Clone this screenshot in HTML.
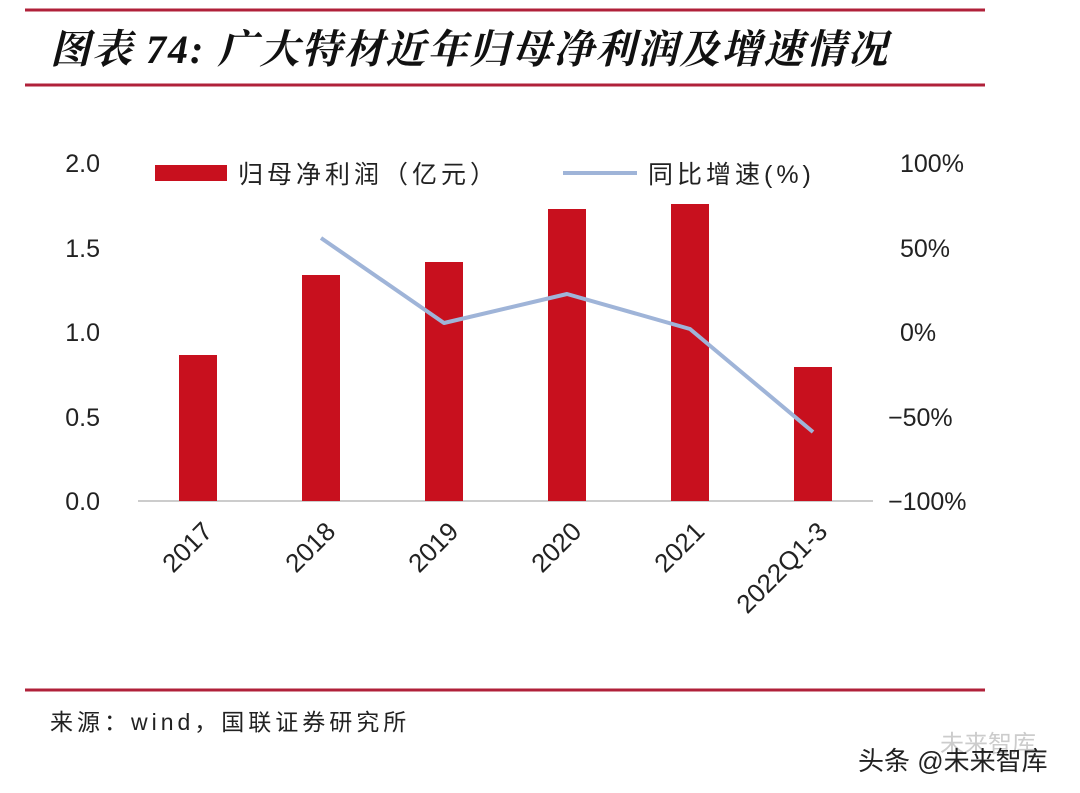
<!DOCTYPE html>
<html><head><meta charset="utf-8"><style>
body{margin:0;background:#fff;}
svg{display:block;}
</style></head><body>
<svg width="1080" height="793" xmlns="http://www.w3.org/2000/svg" font-family="'Liberation Sans','Noto Sans CJK SC',sans-serif">
<rect width="1080" height="793" fill="#fff"/>
<line x1="25" y1="10" x2="985" y2="10" stroke="#b0213a" stroke-width="3"/>
<text x="50" y="63" font-size="40" font-style="italic" font-weight="bold" fill="#111" letter-spacing="2" font-family="'Liberation Serif','Noto Serif CJK SC',serif">图表 74: 广大特材近年归母净利润及增速情况</text>
<line x1="25" y1="85" x2="985" y2="85" stroke="#b0213a" stroke-width="3"/>
<g font-size="25" fill="#222">
<text x="100" y="172" text-anchor="end">2.0</text>
<text x="100" y="257" text-anchor="end">1.5</text>
<text x="100" y="341" text-anchor="end">1.0</text>
<text x="100" y="426" text-anchor="end">0.5</text>
<text x="100" y="510" text-anchor="end">0.0</text>
<text x="900" y="172">100%</text>
<text x="900" y="257">50%</text>
<text x="900" y="341">0%</text>
<text x="888" y="426">−50%</text>
<text x="888" y="510">−100%</text>
</g>
<line x1="138" y1="501" x2="873" y2="501" stroke="#bbb" stroke-width="1.5"/>
<g fill="#c8101e">
<rect x="179" y="355" width="38" height="146"/>
<rect x="302" y="275" width="38" height="226"/>
<rect x="425" y="262" width="38" height="239"/>
<rect x="548" y="209" width="38" height="292"/>
<rect x="671" y="204" width="38" height="297"/>
<rect x="794" y="367" width="38" height="134"/>
</g>
<polyline points="321,238 444,323 567,294 690,329 813,432" fill="none" stroke="#9fb4d8" stroke-width="4" stroke-linejoin="round"/>
<rect x="155" y="165" width="72" height="16" fill="#c8101e"/>
<text x="238" y="183" font-size="25" fill="#222" letter-spacing="4">归母净利润（亿元）</text>
<line x1="563" y1="173" x2="637" y2="173" stroke="#9fb4d8" stroke-width="4"/>
<text x="648" y="183" font-size="25" fill="#222" letter-spacing="4">同比增速(%)</text>
<g font-size="26" fill="#222" text-anchor="end">
<text transform="translate(214,533) rotate(-45)">2017</text>
<text transform="translate(337,533) rotate(-45)">2018</text>
<text transform="translate(460,533) rotate(-45)">2019</text>
<text transform="translate(583,533) rotate(-45)">2020</text>
<text transform="translate(706,533) rotate(-45)">2021</text>
<text transform="translate(829,533) rotate(-45)">2022Q1-3</text>
</g>
<line x1="25" y1="690" x2="985" y2="690" stroke="#b0213a" stroke-width="3"/>
<text x="50" y="730" font-size="23" fill="#222" letter-spacing="4">来源：wind，国联证券研究所</text>
<text x="940" y="752" font-size="24" fill="#ccc">未来智库</text>
<text x="858" y="770" font-size="26" fill="#222">头条 @未来智库</text>
</svg>
</body></html>
